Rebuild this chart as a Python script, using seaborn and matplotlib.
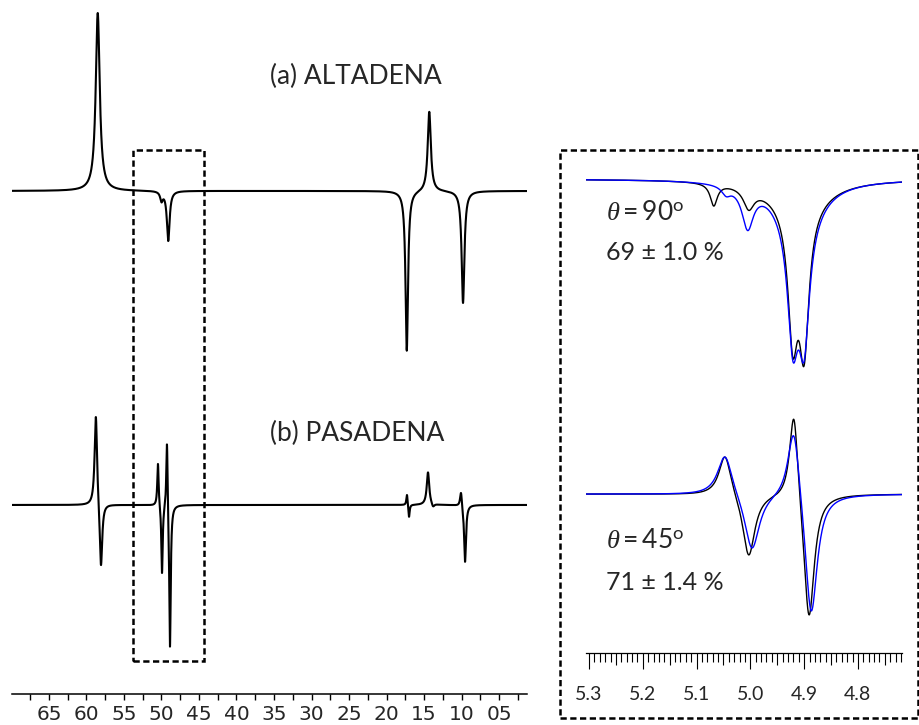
import numpy as np
import pandas as pd
import matplotlib
matplotlib.use("Agg")
import matplotlib.pyplot as plt
import seaborn as sns
from matplotlib.patches import Rectangle

# ---- data (peak centre ppm, height, half-width) ----
# left panel, full spectra (heights relative to the biggest ALTADENA line = 100)
altadena_ppm = [5.85, 5.00, 4.91, 1.73, 1.43, 0.98]
altadena_amp = [100, -5, -28, -90, 45, -63]
altadena_hw = [0.032, 0.02, 0.022, 0.02, 0.025, 0.022]

pasadena_ppm = [5.875, 5.807, 5.047, 4.993, 4.927, 4.887, 1.727, 1.700, 1.447, 1.380, 1.007, 0.953]
pasadena_amp = [52.4, -37.9, 24.7, -39.3, 41.6, -82.2, 6.4, -7.5, 18.5, -2.2, 9.0, -32.6]
pasadena_hw = [0.02, 0.02, 0.011, 0.011, 0.011, 0.012, 0.01, 0.01, 0.02, 0.02, 0.015, 0.015]

left_tick_values = [6.5, 6.0, 5.5, 5.0, 4.5, 4.0, 3.5, 3.0, 2.5, 2.0, 1.5, 1.0, 0.5]
left_tick_labels = ["65", "60", "55", "50", "45", "40", "35", "30", "25", "20", "15", "10", "05"]

# right panel, expansion of the 4.9 ppm multiplet (experiment = black, fit = blue)
t90_black_ppm = [4.91, 5.068, 5.003, 4.921, 4.900]
t90_black_amp = [-25, -22, -20, -125, -135]
t90_black_hw = [0.06, 0.008, 0.012, 0.011, 0.011]

t90_blue_ppm = [4.91, 5.045, 5.005, 4.921, 4.900]
t90_blue_amp = [-40, -8, -40, -115, -115]
t90_blue_hw = [0.045, 0.01, 0.013, 0.012, 0.012]

t45_black_ppm = [5.047, 5.003, 4.919, 4.891]
t45_black_amp = [43, -64.7, 96, -131]
t45_black_hw = [0.014, 0.014, 0.010, 0.012]

t45_blue_ppm = [5.047, 4.997, 4.919, 4.887]
t45_blue_amp = [43, -58.8, 80.3, -128.8]
t45_blue_hw = [0.017, 0.017, 0.014, 0.014]


def spectrum(x, ppm, amp, hw):
    y = np.zeros_like(x)
    for c, a, g in zip(ppm, amp, hw):
        y += a / (1 + ((x - c) / g) ** 2)
    return y


sns.set_theme(style="white")
plt.rcParams["font.family"] = ["Lato", "DejaVu Sans"]
plt.rcParams["mathtext.fontset"] = "custom"
plt.rcParams["mathtext.rm"] = "Lato"
plt.rcParams["mathtext.it"] = "Liberation Serif:italic"

W, H = 920, 725
fig = plt.figure(figsize=(9.2, 7.25), dpi=100)

# ---- left panel ----
ax = fig.add_axes([12 / W, 1 - 694 / H, (527 - 12) / W, 694 / H])
x = np.linspace(6.993, 0.127, 24000)
left = pd.DataFrame({
    "ppm": np.concatenate([x, x]),
    "y": np.concatenate([spectrum(x, altadena_ppm, altadena_amp, altadena_hw) + 282.6,
                         spectrum(x, pasadena_ppm, pasadena_amp, pasadena_hw) + 106.2]),
    "trace": ["a"] * len(x) + ["b"] * len(x),
})
for name, d in left.groupby("trace"):
    sns.lineplot(data=d, x="ppm", y="y", ax=ax, color="black", linewidth=1.5,
                 estimator=None, sort=False)
ax.set_xlim(6.993, 0.127)
ax.set_ylim(0, 694 / 1.78)
ax.set_yticks([])
ax.set_xticks(left_tick_values, left_tick_labels)
ax.set_xticks(np.arange(0.25, 6.8, 0.5), minor=True)
ax.tick_params(axis="x", which="both", direction="out", length=4, width=1, color="black",
               pad=4, labelsize=14.5, bottom=True)
for lab in ax.get_xticklabels():
    lab.set_family(["Liberation Sans Narrow", "DejaVu Sans"])
ax.set_xlabel("")
ax.set_ylabel("")
sns.despine(ax=ax, left=True)
ax.spines["bottom"].set_linewidth(1.1)
ax.spines["bottom"].set_color("black")

# ---- right panel ----
ax2 = fig.add_axes([586 / W, 1 - 653 / H, (902 - 586) / W, (653 - 150) / H])
xr = np.linspace(5.3056, 4.718, 4000)
curves = [
    (t90_black_ppm, t90_black_amp, t90_black_hw, 474, "black"),
    (t90_blue_ppm, t90_blue_amp, t90_blue_hw, 474, "#0000ff"),
    (t45_black_ppm, t45_black_amp, t45_black_hw, 159, "black"),
    (t45_blue_ppm, t45_blue_amp, t45_blue_hw, 159, "#0000ff"),
]
for ppm, amp, hw, base, col in curves:
    d = pd.DataFrame({"ppm": xr, "y": spectrum(xr, ppm, amp, hw) + base})
    sns.lineplot(data=d, x="ppm", y="y", ax=ax2, color=col, linewidth=1.0,
                 estimator=None, sort=False)
ax2.set_xlim(5.3056, 4.718)
ax2.set_ylim(0, 503)
ax2.set_yticks([])
ticks = np.round(np.arange(472, 531) / 100, 2)
labels = [f"{t:.1f}" if round(t * 100) % 10 == 0 else "" for t in ticks]
ax2.set_xticks(ticks, labels)
ax2.tick_params(axis="x", which="major", direction="out", length=11.5, width=0.8,
                color="black", pad=12, labelsize=14, bottom=True)
for t, v in zip(ax2.xaxis.get_major_ticks(), ticks):
    k = round(v * 100)
    if k % 10 == 0:
        t.tick1line.set_markersize(11.5)
    elif k % 5 == 0:
        t.tick1line.set_markersize(8.6)
    else:
        t.tick1line.set_markersize(6.5)
ax2.set_xlabel("")
ax2.set_ylabel("")
sns.despine(ax=ax2, left=True)
ax2.spines["bottom"].set_linewidth(0.9)
ax2.spines["bottom"].set_color("black")

# ---- labels ----
fig.text(270 / W, 1 - 76 / H, "(a) ALTADENA", ha="left", va="center", fontsize=19)
fig.text(270 / W, 1 - 433 / H, "(b) PASADENA", ha="left", va="center", fontsize=19)
fig.text(606 / W, 1 - 212 / H, r"$\theta = 90^{\mathrm{o}}$", ha="left", va="center", fontsize=19)
fig.text(606 / W, 1 - 252 / H, "69 ± 1.0 %", ha="left", va="center", fontsize=18)
fig.text(606 / W, 1 - 540 / H, r"$\theta = 45^{\mathrm{o}}$", ha="left", va="center", fontsize=19)
fig.text(606 / W, 1 - 582 / H, "71 ± 1.4 %", ha="left", va="center", fontsize=18)

# dashed boxes
for (x0, y0, x1, y1) in [(133, 150, 204, 661), (560, 150, 918, 718)]:
    fig.add_artist(Rectangle((x0 / W, 1 - y1 / H), (x1 - x0) / W, (y1 - y0) / H,
                             transform=fig.transFigure, fill=False, edgecolor="black",
                             linewidth=1.8, linestyle=(0, (2.5, 1.4))))

fig.savefig("out.png", dpi=100)
